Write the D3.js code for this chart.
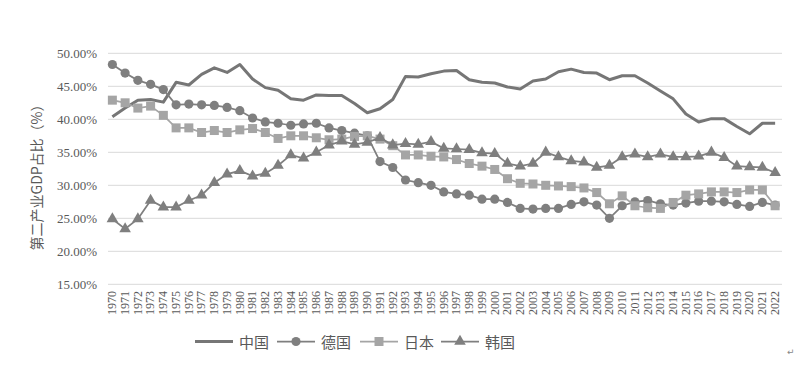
<!DOCTYPE html>
<html><head><meta charset="utf-8">
<script src="https://cdn.jsdelivr.net/npm/d3@7"></script>
<style>body{margin:0;background:#fff;}svg{display:block;}</style>
</head><body>
<svg id="c" width="808" height="365"></svg>
<script>
const years = d3.range(1970, 2023).map(String);
const china = [40.4,41.7,42.9,43.0,42.6,45.6,45.2,46.8,47.8,47.1,48.3,46.1,44.8,44.4,43.1,42.9,43.7,43.6,43.6,42.4,41.0,41.6,43.0,46.5,46.4,46.9,47.3,47.4,46.0,45.6,45.5,44.9,44.6,45.8,46.1,47.2,47.6,47.1,47.0,46.0,46.6,46.6,45.5,44.3,43.1,40.8,39.6,40.1,40.1,38.9,37.8,39.4,39.4];
const germany = [48.3,47.0,45.9,45.3,44.5,42.2,42.3,42.2,42.1,41.8,41.3,40.2,39.6,39.4,39.1,39.3,39.4,38.7,38.3,37.9,37.5,33.6,32.7,30.8,30.4,30.0,29.0,28.7,28.5,27.9,27.9,27.4,26.5,26.4,26.5,26.5,27.1,27.5,27.0,25.0,26.9,27.5,27.7,27.2,27.0,27.3,27.6,27.6,27.5,27.1,26.8,27.4,27.0];
const japan = [42.9,42.5,41.7,42.0,40.6,38.7,38.7,38.0,38.3,38.0,38.4,38.6,38.0,37.1,37.5,37.5,37.2,36.9,37.0,37.4,37.5,37.0,36.0,34.6,34.6,34.4,34.3,33.9,33.3,32.9,32.4,31.0,30.3,30.2,30.0,29.9,29.8,29.6,28.9,27.2,28.4,26.9,26.6,26.5,27.4,28.5,28.7,29.0,29.0,28.9,29.3,29.3,26.9];
const korea = [24.9,23.4,24.9,27.7,26.7,26.7,27.7,28.5,30.4,31.7,32.2,31.4,31.8,33.0,34.6,34.1,35.0,36.1,36.7,36.2,36.5,37.2,36.1,36.3,36.2,36.6,35.6,35.5,35.4,34.9,34.8,33.3,32.9,33.3,35.0,34.3,33.7,33.5,32.7,33.0,34.3,34.7,34.3,34.7,34.3,34.3,34.4,35.0,34.2,32.9,32.8,32.7,31.9];
const yTicks = [15,20,25,30,35,40,45,50];
const seriesNames = ["中国","德国","日本","韩国"];

const svg = d3.select("#c");
const x = d3.scaleBand().domain(years).range([106, 781.5]);
const cx = d => x(d) + x.bandwidth()/2;
const y = d3.scaleLinear().domain([15,50]).range([284.3, 53.3]);

// gridlines
svg.append("g").selectAll("line").data(yTicks).join("line")
  .attr("x1", 108).attr("x2", 782)
  .attr("y1", d => y(d)).attr("y2", d => y(d))
  .attr("stroke", "#d9d9d9").attr("stroke-width", 1);

// y axis labels
const yAxis = d3.axisLeft(y).tickValues(yTicks).tickFormat(d => d.toFixed(2) + "%").tickSize(0).tickPadding(0);
const ga = svg.append("g").attr("transform", "translate(97,0)").call(yAxis);
ga.select(".domain").remove();
ga.selectAll("text").attr("font-family", "'Liberation Serif', 'Times New Roman', serif").attr("font-size", 13).attr("fill", "#595959");

// x axis labels
const xAxis = d3.axisBottom(x).tickSize(0).tickPadding(0);
const gx = svg.append("g").attr("transform", "translate(0,291)").call(xAxis);
gx.select(".domain").remove();
gx.selectAll("text")
  .attr("font-family", "'Liberation Serif', 'Times New Roman', serif").attr("font-size", 12).attr("fill", "#595959")
  .attr("transform", "rotate(-90)").attr("text-anchor", "end").attr("x", 0).attr("y", 0)
  .attr("dy", "0.32em");

// y title
svg.append("text").attr("transform", "translate(36,174) rotate(-90)")
  .attr("text-anchor", "middle").attr("dominant-baseline", "central")
  .attr("font-family", "'Noto Sans CJK SC', sans-serif").attr("font-size", 14).attr("fill", "#595959")
  .text("第二产业GDP占比（%）");

const line = d3.line().x((d,i) => cx(years[i])).y(d => y(d));
const dark = "#7f7f7f", light = "#a5a5a5";

// China
svg.append("path").datum(china).attr("d", line).attr("fill", "none").attr("stroke", "#767676").attr("stroke-width", 3).attr("stroke-linejoin", "round");

// Germany
svg.append("path").datum(germany).attr("d", line).attr("fill", "none").attr("stroke", dark).attr("stroke-width", 1.75);
svg.append("g").selectAll("circle").data(germany).join("circle")
  .attr("cx", (d,i) => cx(years[i])).attr("cy", d => y(d)).attr("r", 4.6).attr("fill", dark);

// Japan
svg.append("path").datum(japan).attr("d", line).attr("fill", "none").attr("stroke", light).attr("stroke-width", 1.75);
svg.append("g").selectAll("rect").data(japan).join("rect")
  .attr("x", (d,i) => cx(years[i]) - 4.5).attr("y", d => y(d) - 4.5).attr("width", 9).attr("height", 9).attr("fill", light);

// Korea
svg.append("path").datum(korea).attr("d", line).attr("fill", "none").attr("stroke", dark).attr("stroke-width", 1.75);
const tri = d3.symbol().type(d3.symbolTriangle).size(58);
svg.append("g").selectAll("path").data(korea).join("path")
  .attr("d", tri).attr("transform", (d,i) => `translate(${cx(years[i])},${y(d)})`).attr("fill", dark);

// legend
const lg = svg.append("g");
const legendX = [195, 277, 360, 441];
seriesNames.forEach((n, i) => {
  const x0 = legendX[i], yy = 341.5;
  const col = i === 2 ? light : (i === 0 ? "#767676" : dark);
  lg.append("line").attr("x1", x0).attr("x2", x0 + 38).attr("y1", yy).attr("y2", yy)
    .attr("stroke", col).attr("stroke-width", i === 0 ? 3 : 1.75);
  const mx = x0 + 19;
  if (i === 1) lg.append("circle").attr("cx", mx).attr("cy", yy).attr("r", 4.6).attr("fill", col);
  if (i === 2) lg.append("rect").attr("x", mx - 4.5).attr("y", yy - 4.5).attr("width", 9).attr("height", 9).attr("fill", col);
  if (i === 3) lg.append("path").attr("d", tri).attr("transform", `translate(${mx},${yy})`).attr("fill", col);
  lg.append("text").attr("x", x0 + 44).attr("y", yy).attr("dominant-baseline", "central")
    .attr("font-family", "'Noto Sans CJK SC', sans-serif").attr("font-size", 15).attr("fill", "#595959").text(n);
});

// paragraph mark
svg.append("text").attr("x", 787).attr("y", 355).attr("font-size", 9).attr("fill", "#888")
  .attr("font-family", "'DejaVu Sans', sans-serif").text("↵");
</script>
</body></html>
